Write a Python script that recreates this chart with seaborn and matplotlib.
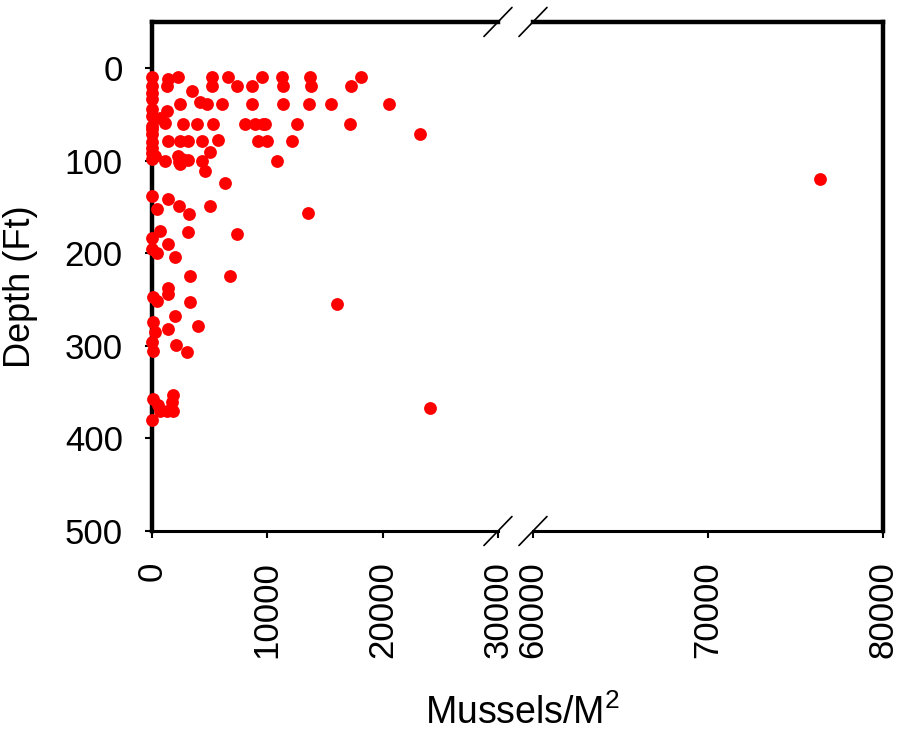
import pandas as pd
import seaborn as sns
import matplotlib
matplotlib.use("Agg")
import matplotlib.pyplot as plt
from matplotlib.lines import Line2D

# Data (mussels per square metre vs depth in feet)
MUSSELS = [
    0, 1400, 2250, 5170, 6580, 9500, 11230, 13680, 18160,
    0, 1270, 5170, 7330, 8630, 11370, 13830, 17290, 3440,
    0, 0, 2420, 4160, 4740, 6040, 8630, 11370, 13600, 15560, 20520, 1270,
    0, 0, 1130, 2680, 3870, 5280, 8050, 8920, 9610, 9790, 12530, 17150,
    0, 23210,
    1410, 2420, 3120, 4300, 5720, 9180, 9930, 12100,
    0, 0, 260, 1130, 2250, 2420, 4300, 5020, 4590, 10830,
    6320, 0, 1410, 2360, 3230, 5020, 410, 13510,
    690, 3090, 7330, 0, 1410, 0, 410, 1990,
    3290, 6750, 1410, 1410, 110, 410, 3290, 16000,
    1990, 110, 1410, 260, 4010, 0, 110, 2080, 3000,
    110, 1840, 1710, 550, 690, 1270, 1840, 0,
    24070, 76400,
    0, 0, 0, 0, 2600, 2300, 700, 3100,
]
DEPTH = [
    10, 12, 9, 10, 9, 9, 9, 9, 9,
    19, 19, 19, 19, 19, 19, 19, 19, 25,
    33, 44, 39, 37, 39, 39, 39, 39, 39, 39, 39, 46,
    62, 66, 59, 60, 60, 60, 60, 60, 60, 60, 60, 60,
    71, 71,
    79, 79, 79, 79, 77, 79, 79, 79,
    92, 98, 95, 100, 95, 104, 100, 91, 111, 100,
    124, 138, 141, 149, 158, 149, 152, 156,
    176, 177, 179, 183, 190, 195, 200, 204,
    225, 224, 237, 244, 247, 251, 253, 255,
    268, 274, 282, 285, 278, 296, 305, 299, 307,
    357, 353, 361, 364, 370, 370, 370, 380,
    367, 120,
    27, 52, 80, 86, 98, 101, 54, 99,
]
LEFT_TICKS = [0, 10000, 20000, 30000]
RIGHT_TICKS = [60000, 70000, 80000]
DEPTH_TICKS = [0, 100, 200, 300, 400, 500]

df = pd.DataFrame({"mussels": MUSSELS, "depth": DEPTH})

sns.set_style("white")
plt.rcParams["font.family"] = ["Liberation Sans", "DejaVu Sans"]
plt.rcParams["mathtext.fontset"] = "custom"
plt.rcParams["mathtext.rm"] = "Liberation Sans"
plt.rcParams["mathtext.it"] = "Liberation Sans"
plt.rcParams["text.color"] = "black"
plt.rcParams["axes.labelcolor"] = "black"
plt.rcParams["xtick.color"] = "black"
plt.rcParams["ytick.color"] = "black"

FS = 25
fig = plt.figure(figsize=(9, 7.32), dpi=100)
ax1 = fig.add_axes([0.1689, 0.2746, 0.3844, 0.6954])
ax2 = fig.add_axes([0.5922, 0.2746, 0.3889, 0.6954])

sns.scatterplot(data=df[df.mussels <= LEFT_TICKS[-1]], x="mussels", y="depth",
                ax=ax1, color="#ff0000", s=85, linewidth=0, clip_on=False, zorder=3)
sns.scatterplot(data=df[df.mussels >= RIGHT_TICKS[0]], x="mussels", y="depth",
                ax=ax2, color="#ff0000", s=85, linewidth=0, clip_on=False, zorder=3)

for ax, ticks in ((ax1, LEFT_TICKS), (ax2, RIGHT_TICKS)):
    ax.set_xlim(ticks[0], ticks[-1])
    ax.set_ylim(500, -50)
    ax.set_xticks(ticks)
    ax.set_xticklabels([str(t) for t in ticks], rotation=90, fontsize=FS)
    ax.tick_params(axis="x", direction="out", length=5, width=1.5, pad=17,
                   bottom=True)
    ax.set_xlabel("")
    ax.set_ylabel("")
    for side in ("top", "left", "right"):
        ax.spines[side].set_linewidth(3.2)
        ax.spines[side].set_color("black")
    ax.spines["bottom"].set_linewidth(2.2)
    ax.spines["bottom"].set_color("black")

ax1.spines["right"].set_visible(False)
ax2.spines["left"].set_visible(False)
ax1.set_yticks(DEPTH_TICKS)
ax1.set_yticklabels([str(t) for t in DEPTH_TICKS], fontsize=FS)
ax1.tick_params(axis="y", direction="out", length=5, width=1.5, pad=16, left=True)
ax2.set_yticks([])

ax1.set_ylabel("Depth (Ft)", fontsize=26)
ax1.yaxis.set_label_coords(-0.33, 0.48)

fig.text(0.58, 0.026, "Mussels/M$^2$", fontsize=27, ha="center", va="center")

# break marks "//" on top and bottom edges
W, H = 900, 732
for ax, xa in ((ax1, 1.0), (ax2, 0.0)):
    pos = ax.get_position()
    dx = 14 / (pos.width * W)
    dy = 14.5 / (pos.height * H)
    for ya in (0.0, 1.0):
        fig.add_artist(Line2D([xa - dx, xa + dx], [ya - dy, ya + dy],
                              transform=ax.transAxes, color="black", lw=1.2,
                              clip_on=False))

fig.savefig("out.png", dpi=100, facecolor="white")
